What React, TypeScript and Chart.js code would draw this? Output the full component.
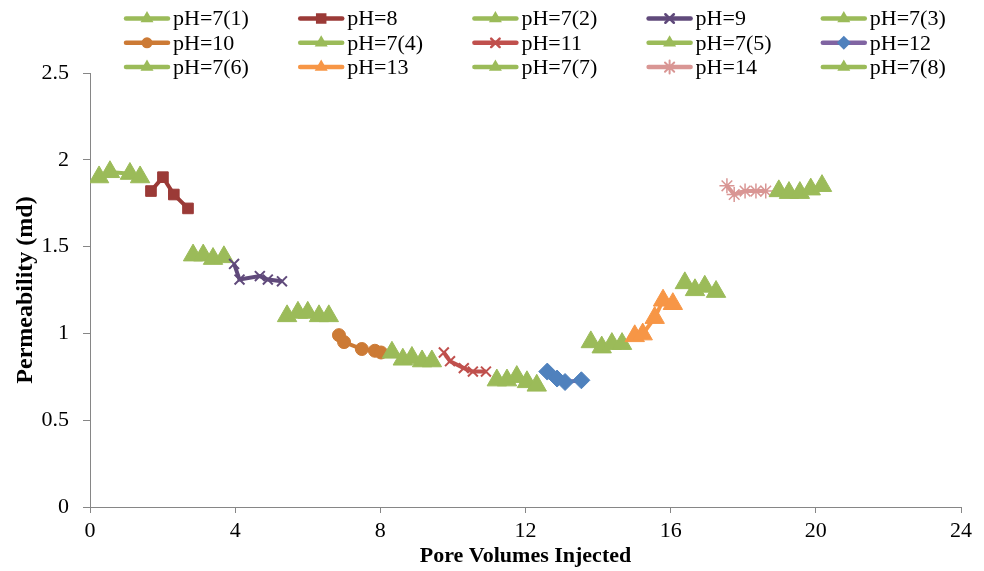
import React, { useEffect, useRef } from 'react';
import { Chart, registerables } from 'chart.js';

Chart.register(...registerables);

// ---- data (Pore Volumes Injected vs Permeability, md) ----
const ph7_1X = [0.25, 0.55, 1.1, 1.38];
const ph7_1Y = [1.9, 1.93, 1.92, 1.9];
const ph8X = [1.68, 2.01, 2.31, 2.7];
const ph8Y = [1.82, 1.9, 1.8, 1.72];
const ph7_2X = [2.84, 3.12, 3.39, 3.69];
const ph7_2Y = [1.45, 1.45, 1.43, 1.44];
const ph9X = [3.97, 4.12, 4.68, 4.9, 5.29];
const ph9Y = [1.4, 1.31, 1.33, 1.31, 1.3];
const ph7_3X = [5.43, 5.73, 6.0, 6.31, 6.58];
const ph7_3Y = [1.1, 1.12, 1.12, 1.1, 1.1];
const ph10X = [6.86, 7.0, 7.49, 7.85, 8.02];
const ph10Y = [0.99, 0.95, 0.91, 0.9, 0.89];
const ph7_4X = [8.32, 8.62, 8.87, 9.15, 9.42];
const ph7_4Y = [0.89, 0.85, 0.86, 0.84, 0.84];
const ph11X = [9.75, 9.92, 10.3, 10.55, 10.91];
const ph11Y = [0.89, 0.84, 0.8, 0.78, 0.78];
const ph7_5X = [11.21, 11.49, 11.76, 12.04, 12.31];
const ph7_5Y = [0.73, 0.73, 0.75, 0.72, 0.7];
const ph12X = [12.6, 12.87, 13.09, 13.54];
const ph12Y = [0.78, 0.74, 0.72, 0.73];
const ph7_6X = [13.8, 14.1, 14.38, 14.66];
const ph7_6Y = [0.95, 0.92, 0.94, 0.94];
const ph13X = [15.01, 15.23, 15.56, 15.79, 16.06];
const ph13Y = [0.985, 0.995, 1.09, 1.19, 1.17];
const ph7_7X = [16.39, 16.67, 16.94, 17.25];
const ph7_7Y = [1.29, 1.25, 1.27, 1.24];
const ph14X = [17.55, 17.75, 18.05, 18.35, 18.62];
const ph14Y = [1.85, 1.8, 1.82, 1.82, 1.82];
const ph7_8X = [18.98, 19.26, 19.56, 19.86, 20.17];
const ph7_8Y = [1.82, 1.81, 1.81, 1.83, 1.85];

const xTicks = [0, 4, 8, 12, 16, 20, 24];
const yTicks = [0, 0.5, 1, 1.5, 2, 2.5];

const FONT = '"Liberation Serif", "Times New Roman", serif';
const GREEN = '#9BBB59';
const AXIS = '#868686';

type Series = {
  label: string;
  x: number[];
  y: number[];
  line: string;
  fill: string;
  style: string;
  r: number;
  lr: number;
  bw: number;
};

const SERIES: Series[] = [
  { label: 'pH=7(1)', x: ph7_1X, y: ph7_1Y, line: GREEN, fill: GREEN, style: 'triangle', r: 11.2, lr: 7.5, bw: 1 },
  { label: 'pH=8', x: ph8X, y: ph8Y, line: '#9B3A37', fill: '#9B3A37', style: 'rect', r: 7.5, lr: 7, bw: 1 },
  { label: 'pH=7(2)', x: ph7_2X, y: ph7_2Y, line: GREEN, fill: GREEN, style: 'triangle', r: 11.2, lr: 7.5, bw: 1 },
  { label: 'pH=9', x: ph9X, y: ph9Y, line: '#604A7B', fill: '#604A7B', style: 'crossRot', r: 7, lr: 6, bw: 2 },
  { label: 'pH=7(3)', x: ph7_3X, y: ph7_3Y, line: GREEN, fill: GREEN, style: 'triangle', r: 11.2, lr: 7.5, bw: 1 },
  { label: 'pH=10', x: ph10X, y: ph10Y, line: '#CC7A35', fill: '#CC7A35', style: 'circle', r: 6.5, lr: 5.5, bw: 1 },
  { label: 'pH=7(4)', x: ph7_4X, y: ph7_4Y, line: GREEN, fill: GREEN, style: 'triangle', r: 11.2, lr: 7.5, bw: 1 },
  { label: 'pH=11', x: ph11X, y: ph11Y, line: '#C0504D', fill: '#C0504D', style: 'crossRot', r: 7, lr: 6, bw: 2 },
  { label: 'pH=7(5)', x: ph7_5X, y: ph7_5Y, line: GREEN, fill: GREEN, style: 'triangle', r: 11.2, lr: 7.5, bw: 1 },
  { label: 'pH=12', x: ph12X, y: ph12Y, line: '#8064A2', fill: '#4F81BD', style: 'rectRot', r: 8.5, lr: 7, bw: 1 },
  { label: 'pH=7(6)', x: ph7_6X, y: ph7_6Y, line: GREEN, fill: GREEN, style: 'triangle', r: 11.2, lr: 7.5, bw: 1 },
  { label: 'pH=13', x: ph13X, y: ph13Y, line: '#F79646', fill: '#F79646', style: 'triangle', r: 11.2, lr: 7.5, bw: 1 },
  { label: 'pH=7(7)', x: ph7_7X, y: ph7_7Y, line: GREEN, fill: GREEN, style: 'triangle', r: 11.2, lr: 7.5, bw: 1 },
  { label: 'pH=14', x: ph14X, y: ph14Y, line: '#D99694', fill: '#D99694', style: 'star', r: 7.5, lr: 6.5, bw: 1.5 },
  { label: 'pH=7(8)', x: ph7_8X, y: ph7_8Y, line: GREEN, fill: GREEN, style: 'triangle', r: 11.2, lr: 7.5, bw: 1 },
];

function drawMarker(ctx: CanvasRenderingContext2D, style: string, x: number, y: number, r: number, color: string, bw: number) {
  ctx.save();
  ctx.fillStyle = color;
  ctx.strokeStyle = color;
  ctx.lineWidth = bw;
  ctx.beginPath();
  if (style === 'triangle') {
    ctx.moveTo(x, y - r);
    ctx.lineTo(x + r * 0.866, y + r * 0.5);
    ctx.lineTo(x - r * 0.866, y + r * 0.5);
    ctx.closePath();
    ctx.fill();
  } else if (style === 'rect') {
    const s = r * 0.75;
    ctx.rect(x - s, y - s, 2 * s, 2 * s);
    ctx.fill();
  } else if (style === 'circle') {
    ctx.arc(x, y, r, 0, Math.PI * 2);
    ctx.fill();
  } else if (style === 'rectRot') {
    ctx.moveTo(x, y - r);
    ctx.lineTo(x + r, y);
    ctx.lineTo(x, y + r);
    ctx.lineTo(x - r, y);
    ctx.closePath();
    ctx.fill();
  } else if (style === 'crossRot') {
    const d = r * 0.707;
    ctx.moveTo(x - d, y - d);
    ctx.lineTo(x + d, y + d);
    ctx.moveTo(x + d, y - d);
    ctx.lineTo(x - d, y + d);
    ctx.stroke();
  } else if (style === 'star') {
    const d = r * 0.707;
    ctx.moveTo(x - d, y - d);
    ctx.lineTo(x + d, y + d);
    ctx.moveTo(x + d, y - d);
    ctx.lineTo(x - d, y + d);
    ctx.moveTo(x, y - r);
    ctx.lineTo(x, y + r);
    ctx.stroke();
  }
  ctx.restore();
}

const legendPlugin = {
  id: 'gridLegend',
  afterDraw(chart: any) {
    const ctx: CanvasRenderingContext2D = chart.ctx;
    ctx.save();
    SERIES.forEach((s, i) => {
      const col = i % 5;
      const row = Math.floor(i / 5);
      const x0 = 124 + col * 174.2;
      const y = 18.5 + row * 24.3;
      ctx.strokeStyle = s.line;
      ctx.lineWidth = 4.5;
      ctx.lineCap = 'round';
      ctx.beginPath();
      ctx.moveTo(x0 + 2, y);
      ctx.lineTo(x0 + 44, y);
      ctx.stroke();
      drawMarker(ctx, s.style, x0 + 23, y, s.lr, s.fill, s.bw + 0.5);
      ctx.fillStyle = '#000';
      ctx.font = '22px ' + FONT;
      ctx.textBaseline = 'middle';
      ctx.textAlign = 'left';
      ctx.fillText(s.label, x0 + 49, y + 1);
    });
    ctx.restore();
  },
};

export default function App() {
  const ref = useRef<HTMLCanvasElement>(null);

  useEffect(() => {
    document.body.style.margin = '0';
    const canvas = ref.current;
    if (!canvas) return;

    const datasets = SERIES.map((s, i) => ({
      label: s.label,
      data: s.x.map((xv, j) => ({ x: xv, y: s.y[j] })),
      showLine: true,
      borderColor: s.line,
      backgroundColor: s.fill,
      borderWidth: 4,
      tension: 0,
      pointStyle: s.style,
      pointRadius: s.r,
      pointHoverRadius: s.r,
      pointBackgroundColor: s.fill,
      pointBorderColor: s.fill,
      pointBorderWidth: s.bw,
      order: SERIES.length - i,
    }));

    const chart = new Chart(canvas, {
      type: 'scatter',
      data: { datasets },
      plugins: [legendPlugin],
      options: {
        responsive: false,
        animation: false,
        layout: { padding: { top: 73, right: 23, bottom: 0, left: 0 } },
        plugins: {
          legend: { display: false },
          tooltip: { enabled: false },
          title: { display: false },
        },
        scales: {
          x: {
            type: 'linear',
            min: 0,
            max: 24,
            afterFit: (scale: any) => {
              scale.height = 64;
            },
            afterBuildTicks: (scale: any) => {
              scale.ticks = xTicks.map((v) => ({ value: v }));
            },
            ticks: {
              color: '#000',
              font: { family: FONT, size: 22 },
              padding: 5,
              maxRotation: 0,
              callback: (v: any) => String(v),
            },
            grid: {
              display: true,
              drawOnChartArea: false,
              drawTicks: true,
              tickLength: 6,
              tickColor: AXIS,
              color: AXIS,
            },
            border: { display: true, color: AXIS, width: 1 },
            title: {
              display: true,
              text: 'Pore Volumes Injected',
              color: '#000',
              font: { family: FONT, size: 22, weight: 'bold' },
              padding: { top: 0, bottom: 1 },
            },
          },
          y: {
            type: 'linear',
            min: 0,
            max: 2.5,
            afterFit: (scale: any) => {
              scale.width = 90;
            },
            afterBuildTicks: (scale: any) => {
              scale.ticks = yTicks.map((v) => ({ value: v }));
            },
            ticks: {
              color: '#000',
              font: { family: FONT, size: 22 },
              padding: 14,
              callback: (v: any) => String(v),
            },
            grid: {
              display: true,
              drawOnChartArea: false,
              drawTicks: true,
              tickLength: 7,
              tickColor: AXIS,
              color: AXIS,
            },
            border: { display: true, color: AXIS, width: 1 },
            title: {
              display: true,
              text: 'Permeability (md)',
              color: '#000',
              font: { family: FONT, size: 24, weight: 'bold' },
              padding: { top: 11, bottom: 0 },
            },
          },
        },
      },
    } as any);

    return () => {
      chart.destroy();
    };
  }, []);

  return (
    <div style={{ width: 984, height: 571, position: 'relative' }}>
      <canvas ref={ref} width={984} height={571} style={{ display: 'block', width: 984, height: 571 }} />
    </div>
  );
}
